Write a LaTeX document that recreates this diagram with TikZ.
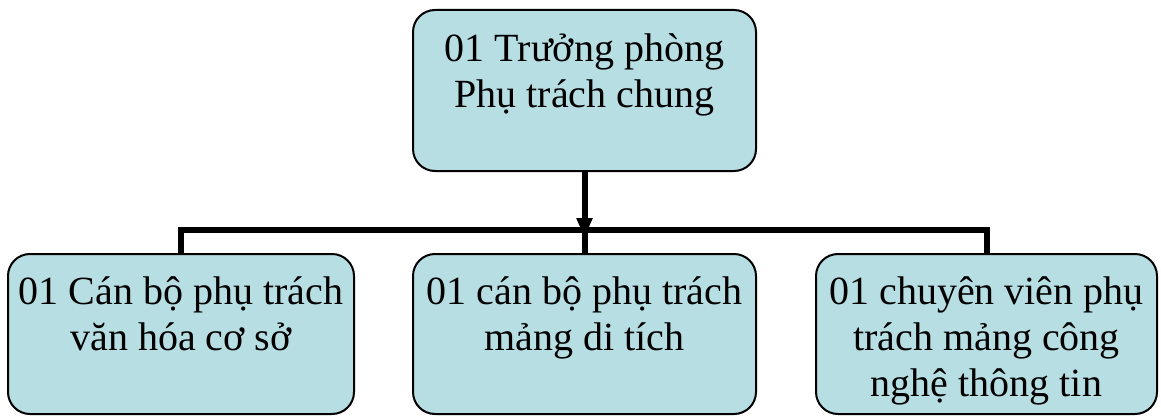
\documentclass[tikz,border=0pt]{standalone}
\usepackage{fontspec}
\setmainfont{Liberation Serif}
\usetikzlibrary{arrows.meta}
\definecolor{boxfill}{RGB}{183,222,226}
\tikzset{
  orgbox/.style={draw=black, line width=2pt, fill=boxfill, rounded corners=22pt, inner sep=0pt, outer sep=0pt, minimum height=160pt},
  orgtext/.style={align=center, inner sep=0pt, anchor=base, font=\fontsize{40}{46}\selectfont},
  conn/.style={line width=6pt, line join=miter, draw=black}
}
\begin{document}
\begin{tikzpicture}[x=1pt,y=-1pt]
\useasboundingbox (0,0) rectangle (1161,417);
\node[orgbox, minimum width=343pt, minimum height=161pt] (top) at (584.5,90.5) {};
\node[orgbox, minimum width=346pt] (left) at (181,334) {};
\node[orgbox, minimum width=343pt] (mid) at (584.5,334) {};
\node[orgbox, minimum width=341pt] (right) at (986.5,334) {};
\node[orgtext] (ttop) at ([yshift=-98pt]top.north) {01 Trưởng phòng\\Phụ trách chung};
\node[orgtext] (tleft) at ([yshift=-96pt]left.north) {01 Cán bộ phụ trách\\văn hóa cơ sở};
\node[orgtext] (tmid) at ([yshift=-96pt]mid.north) {01 cán bộ phụ trách\\mảng di tích};
\node[orgtext] (tright) at ([yshift=-142pt]right.north) {01 chuyên viên phụ\\trách mảng công\\nghệ thông tin};
\coordinate (bus) at (0,230);
\coordinate (tip) at (0,238);
\draw[conn] (left.north) -- (left.north |- bus) -- (right.north |- bus) -- (right.north);
\draw[conn] (mid.north |- bus) -- (mid.north);
\draw[conn, -{Triangle[width=15pt,length=20pt]}] (top.south) -- (top.south |- tip);
\end{tikzpicture}
\end{document}
